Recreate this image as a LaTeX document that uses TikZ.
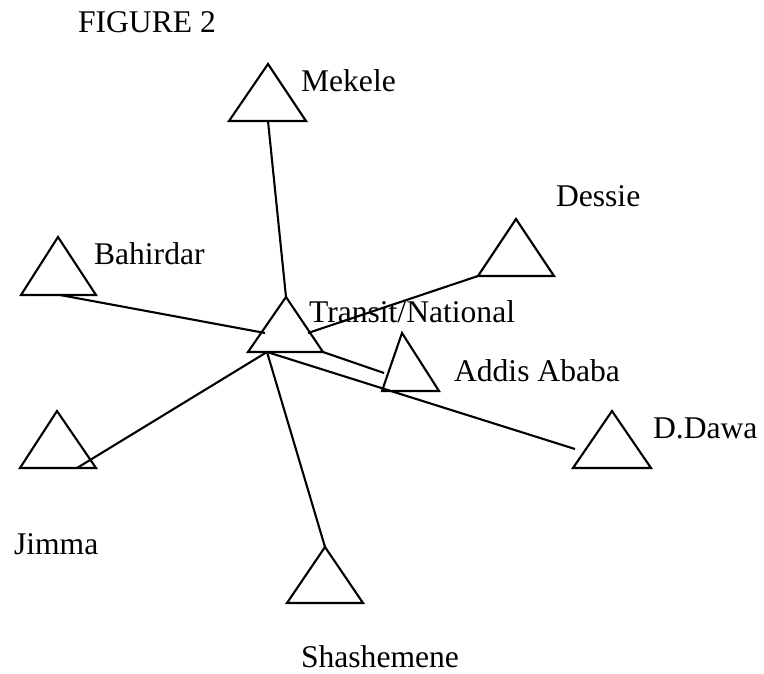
\documentclass[tikz,border=0pt]{standalone}
\usepackage{fontspec}
\setmainfont{Liberation Serif}
\begin{document}
\begin{tikzpicture}[x=1pt,y=-1pt,line width=2.1pt,
  site/.style={draw,line join=miter},
  link/.style={draw},
  town/.style={anchor=base west,inner sep=0pt,font=\fontsize{31.6}{36}\selectfont}]
\useasboundingbox (0,0) rectangle (764,674);
\node[town] (fig) at (77,33) {FIGURE 2};
% triangles: name/apex x/apex y/base left/base right/base y
\foreach \n/\x/\y/\l/\r/\b in {mek/268/64/229/306/121, des/516/219/478/554/276,
    bah/58/237/21/96/295, tra/286/297/248/323/352, add/402/333/382/439/391,
    dda/612/411/573/651/468, jim/57/411/20/96/468, sha/325/547/287/363/603}{
  \draw[site] (\x,\y) -- (\l,\b) -- (\r,\b) -- cycle;
  \coordinate (\n) at (\x,\y);
  \coordinate (\n-l) at (\l,\b);
  \coordinate (\n-r) at (\r,\b);
}
% line ends
\coordinate (hub) at (267,352);
\coordinate (mek-b) at (268,121);
\coordinate (bah-b) at (60,295);
\coordinate (jim-b) at (77,468);
\coordinate (tra-w) at (265,333);
\coordinate (tra-e) at (308,333);
\coordinate (add-w) at (384,373);
\coordinate (dda-w) at (575,449);
\draw[link] (mek-b) -- (tra);
\draw[link] (des-l) -- (tra-e);
\draw[link] (bah-b) -- (tra-w);
\draw[link] (tra-r) -- (add-w);
\draw[link] (hub) -- (jim-b);
\draw[link] (hub) -- (sha);
\draw[link] (hub) -- (dda-w);
% labels
\node[town] (mekl) at (300,92) {Mekele};
\node[town] (desl) at (555,207) {Dessie};
\node[town] (bahl) at (93,265) {Bahirdar};
\node[town] (tral) at (308,323) {Transit/National};
\node[town] (addl) at (453,381) {Addis Ababa};
\node[town] (ddal) at (652,438) {D.Dawa};
\node[town] (jiml) at (13,554) {Jimma};
\node[town] (shal) at (300,667) {Shashemene};
\end{tikzpicture}
\end{document}
